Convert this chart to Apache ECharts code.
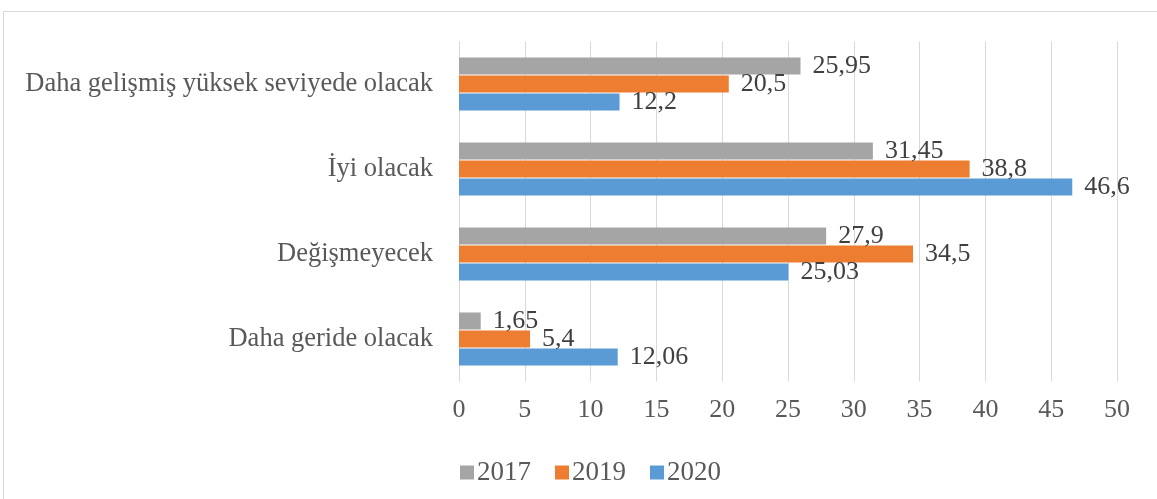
<!DOCTYPE html>
<html lang="tr">
<head>
    <meta charset="UTF-8">
    <title>Bar chart</title>
    <script src="https://cdn.jsdelivr.net/npm/echarts@6/dist/echarts.min.js"></script>
    <style>
        html, body { margin: 0; padding: 0; background: #fff; }
    </style>
</head>
<body>
<div id="main" style="width: 1157px;height:499px;"></div>
<script type="text/javascript">
    // data
    var categories = ['Daha geride olacak', 'Değişmeyecek', 'İyi olacak', 'Daha gelişmiş yüksek seviyede olacak'];
    var values2017 = [1.65, 27.9, 31.45, 25.95];
    var values2019 = [5.4, 34.5, 38.8, 20.5];
    var values2020 = [12.06, 25.03, 46.6, 12.2];
    var xTicks = { min: 0, max: 50, interval: 5 };

    var serif = 'Liberation Serif';
    var myChart = echarts.init(document.getElementById('main'));

    function makeSeries(name, data, color) {
        return {
            name: name,
            type: 'bar',
            data: data,
            barWidth: 17,
            barGap: '6%',
            itemStyle: { color: color },
            label: {
                show: true,
                position: 'right',
                distance: 12,
                color: '#404040',
                fontFamily: serif,
                fontSize: 26,
                formatter: function (p) { return String(p.value).replace('.', ','); }
            }
        };
    }

    var option = {
        animation: false,
        backgroundColor: '#fff',
        graphic: [{
            type: 'rect',
            shape: { x: 3.5, y: 11.5, width: 1170, height: 520 },
            style: { fill: 'none', stroke: '#D9D9D9', lineWidth: 1 },
            silent: true
        }],
        legend: {
            data: ['2017', '2019', '2020'],
            left: 455,
            top: 454,
            icon: 'rect',
            itemWidth: 14,
            itemHeight: 14,
            itemGap: 24,
            textStyle: { fontFamily: serif, fontSize: 27, color: '#595959', padding: [0, 0, 0, -2] }
        },
        grid: { left: 459, right: 40, top: 41.5, bottom: 117.5 },
        xAxis: {
            type: 'value',
            min: xTicks.min,
            max: xTicks.max,
            interval: xTicks.interval,
            axisLine: { show: false },
            axisTick: { show: false },
            splitLine: { lineStyle: { color: '#D9D9D9', width: 1 } },
            axisLabel: { fontFamily: serif, fontSize: 26, color: '#595959', margin: 16 }
        },
        yAxis: {
            type: 'category',
            data: categories,
            axisLine: { show: true, lineStyle: { color: '#D9D9D9' } },
            axisTick: { show: false },
            axisLabel: { fontFamily: serif, fontSize: 26.5, color: '#595959', margin: 26 }
        },
        series: [
            makeSeries('2017', values2017, '#A5A5A5'),
            makeSeries('2019', values2019, '#ED7D31'),
            makeSeries('2020', values2020, '#5B9BD5')
        ]
    };

    myChart.setOption(option);
</script>
</body>
</html>
